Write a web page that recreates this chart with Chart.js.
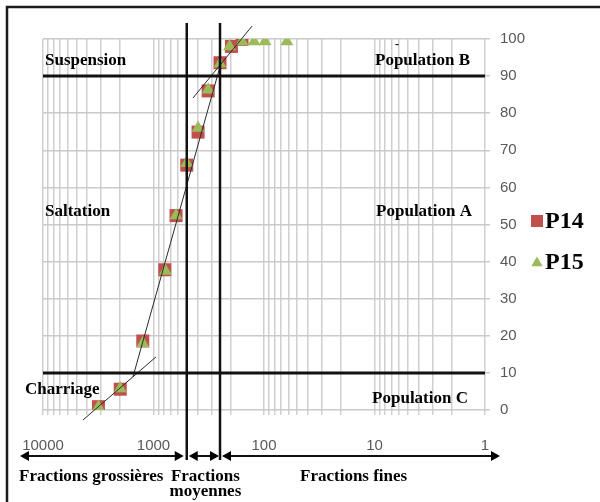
<!DOCTYPE html>
<html>
<head>
<meta charset="utf-8">
<script src="https://cdn.jsdelivr.net/npm/chart.js@4.4.0/dist/chart.umd.min.js"></script>
<style>
  html, body { margin: 0; padding: 0; background: #fff; }
</style>
</head>
<body>
<canvas id="myChart" width="600" height="502"></canvas>
<script>

// grain size (log axis, coarse on the left) vs cumulative %

const p14Size = [3150, 2000, 1250, 790, 625, 500, 395, 320, 250, 197, 158];
const p14Pct  = [0.9, 5.6, 18.6, 37.8, 52.4, 66.0, 74.9, 86.0, 93.6, 98.0, 99.9];

const p15Size = [3150, 2000, 1250, 780, 625, 500, 395, 320, 250, 205, 158, 123, 98, 62];
const p15Pct  = [0.8, 5.8, 18.0, 37.5, 52.4, 66.5, 76.0, 86.3, 93.3, 98.0, 99.3, 99.3, 99.3, 99.3];

// the three fitted segments
const charriageX  = [4350, 950];
const charriageY  = [-2.7, 14.3];
const saltationX  = [1535, 245];
const saltationY  = [8.9, 93.5];
const suspensionX = [439, 128];
const suspensionY = [84.1, 103.5];

// limits between populations / fractions
const limitSizes = [500, 250];
const limitPct = [10, 90];

const xLabels = [10000, 1000, 100, 10, 1];
const decades = [1, 10, 100, 1000];

const toPoints = (xs, ys) => xs.map((x, i) => ({ x: x, y: ys[i] }));

const serif = '"Liberation Serif", "Times New Roman", serif';

const fitLine = (label, xs, ys) => ({
  label: label,
  data: toPoints(xs, ys),
  showLine: true,
  borderColor: '#2b2b2b',
  borderWidth: 1,
  pointRadius: 0,
  clip: false,
  order: 0
});

const overlay = {
  id: 'overlay',
  beforeDraw(chart) {
    const ctx = chart.ctx;
    ctx.save();
    ctx.fillStyle = '#fff';
    ctx.fillRect(0, 0, chart.width, chart.height);
    ctx.strokeStyle = '#1a1a1a';
    ctx.lineWidth = 2.5;
    ctx.strokeRect(7, 7, chart.width + 20, chart.height + 20);
    ctx.restore();
  },
  afterDatasetsDraw(chart) {
    const ctx = chart.ctx;
    const area = chart.chartArea;
    const xs = chart.scales.x;
    const ys = chart.scales.y;
    ctx.save();
    ctx.strokeStyle = '#111';
    ctx.lineWidth = 3;
    limitPct.forEach(v => {
      const y = ys.getPixelForValue(v);
      ctx.beginPath();
      ctx.moveTo(area.left, y);
      ctx.lineTo(area.right, y);
      ctx.stroke();
    });
    ctx.lineWidth = 2.5;
    limitSizes.forEach(v => {
      const x = xs.getPixelForValue(v);
      ctx.beginPath();
      ctx.moveTo(x, area.top - 16);
      ctx.lineTo(x, area.bottom + 50);
      ctx.stroke();
    });
    ctx.restore();
  },
  afterDraw(chart) {
    const ctx = chart.ctx;
    const area = chart.chartArea;
    const xs = chart.scales.x;
    const ys = chart.scales.y;
    const x1 = xs.getPixelForValue(limitSizes[0]);
    const x2 = xs.getPixelForValue(limitSizes[1]);

    ctx.save();
    ctx.fillStyle = '#000';
    ctx.font = 'bold 17px ' + serif;
    ctx.textBaseline = 'middle';

    ctx.textAlign = 'left';
    ctx.fillText('Suspension', area.left + 2, ys.getPixelForValue(94.2));
    ctx.fillText('Saltation', area.left + 2, ys.getPixelForValue(53.5));
    ctx.fillText('Charriage', area.left - 18, ys.getPixelForValue(5.6));

    ctx.textAlign = 'right';
    ctx.fillText('Population B', area.right - 15, ys.getPixelForValue(94.2));
    ctx.fillText('Population A', area.right - 13, ys.getPixelForValue(53.5));
    ctx.fillText('Population C', area.right - 17, ys.getPixelForValue(3.1));
    ctx.textAlign = 'center';
    ctx.font = 'bold 12px ' + serif;
    ctx.fillText('-', area.right - 88, ys.getPixelForValue(98.5));

    // arrows under the axis
    const ay = area.bottom + 46;
    const head = (tip, dir) => {
      ctx.beginPath();
      ctx.moveTo(tip, ay);
      ctx.lineTo(tip - dir * 9, ay - 5);
      ctx.lineTo(tip - dir * 9, ay + 5);
      ctx.closePath();
      ctx.fill();
    };
    const arrow = (a, b) => {
      ctx.beginPath();
      ctx.moveTo(a + 4, ay);
      ctx.lineTo(b - 4, ay);
      ctx.stroke();
      head(a, -1);
      head(b, 1);
    };
    ctx.strokeStyle = '#111';
    ctx.fillStyle = '#000';
    ctx.lineWidth = 2;
    arrow(area.left - 23, x1 - 3);
    arrow(x1 + 2, x2 - 1);
    arrow(x2 + 2, area.right + 15);

    ctx.font = 'bold 17px ' + serif;
    ctx.textAlign = 'left';
    ctx.fillText('Fractions grossières', area.left - 24, area.bottom + 67);
    ctx.fillText('Fractions fines', x2 + 80, area.bottom + 67);
    ctx.textAlign = 'center';
    ctx.fillText('Fractions', (x1 + x2) / 2 + 2, area.bottom + 67);
    ctx.fillText('moyennes', (x1 + x2) / 2 + 2, area.bottom + 82);

    // legend
    const legend = [
      { text: 'P14', color: '#C0504D', style: 'rect', radius: 8.5 },
      { text: 'P15', color: '#9BBB59', style: 'triangle', radius: 6.5 }
    ];
    ctx.font = 'bold 24px ' + serif;
    ctx.textAlign = 'left';
    legend.forEach((item, i) => {
      const cy = 221 + i * 41;
      ctx.fillStyle = item.color;
      ctx.strokeStyle = item.color;
      Chart.helpers.drawPoint(ctx, { pointStyle: item.style, radius: item.radius, borderWidth: 0, rotation: 0 }, area.right + 52, cy + (i ? 1 : 0));
      ctx.fillStyle = '#000';
      ctx.fillText(item.text, area.right + 60, cy + 1);
    });
    ctx.restore();
  }
};

const ctx = document.getElementById('myChart');

const data = {
  datasets: [
    {
      label: 'P14',
      data: toPoints(p14Size, p14Pct),
      pointStyle: 'rect',
      pointRadius: 9.2,
      backgroundColor: '#C0504D',
      borderColor: '#C0504D',
      borderWidth: 0,
      showLine: false,
      order: 2
    },
    {
      label: 'P15',
      data: toPoints(p15Size, p15Pct),
      pointStyle: 'triangle',
      pointRadius: 7.5,
      backgroundColor: '#9BBB59',
      borderColor: '#9BBB59',
      borderWidth: 0,
      showLine: false,
      order: 1
    },
    fitLine('charriage', charriageX, charriageY),
    fitLine('saltation', saltationX, saltationY),
    fitLine('suspension', suspensionX, suspensionY)
  ]
};

const tickFont = { family: '"Liberation Sans", Arial, sans-serif', size: 15 };

const config = {
  type: 'scatter',
  data: data,
  options: {
    responsive: false,
    animation: false,
    events: [],
    layout: { padding: { left: 43, right: 65, top: 39, bottom: 25 } },
    plugins: {
      legend: { display: false },
      tooltip: { enabled: false }
    },
    scales: {
      x: {
        type: 'logarithmic',
        reverse: true,
        min: 1,
        max: 10000,
        afterBuildTicks: (scale) => {
          const ticks = [];
          decades.forEach(d => {
            for (let m = 1; m < 10; m++) ticks.push({ value: m * d });
          });
          ticks.push({ value: 10000 });
          scale.ticks = ticks;
        },
        ticks: {
          autoSkip: false,
          maxRotation: 0,
          padding: 22,
          color: '#595959',
          font: tickFont,
          callback: (value) => xLabels.includes(value) ? String(value) : ''
        },
        grid: { color: '#cfcfcf', lineWidth: 1.5, tickLength: 5 },
        border: { display: false }
      },
      y: {
        position: 'right',
        min: 0,
        max: 100,
        ticks: {
          stepSize: 10,
          padding: 10,
          color: '#595959',
          font: tickFont
        },
        grid: { color: '#cacaca', lineWidth: 1.5, tickLength: 5 },
        border: { display: false }
      }
    }
  },
  plugins: [overlay]
};

const myChart = new Chart(ctx, config);

</script>
</body>
</html>
